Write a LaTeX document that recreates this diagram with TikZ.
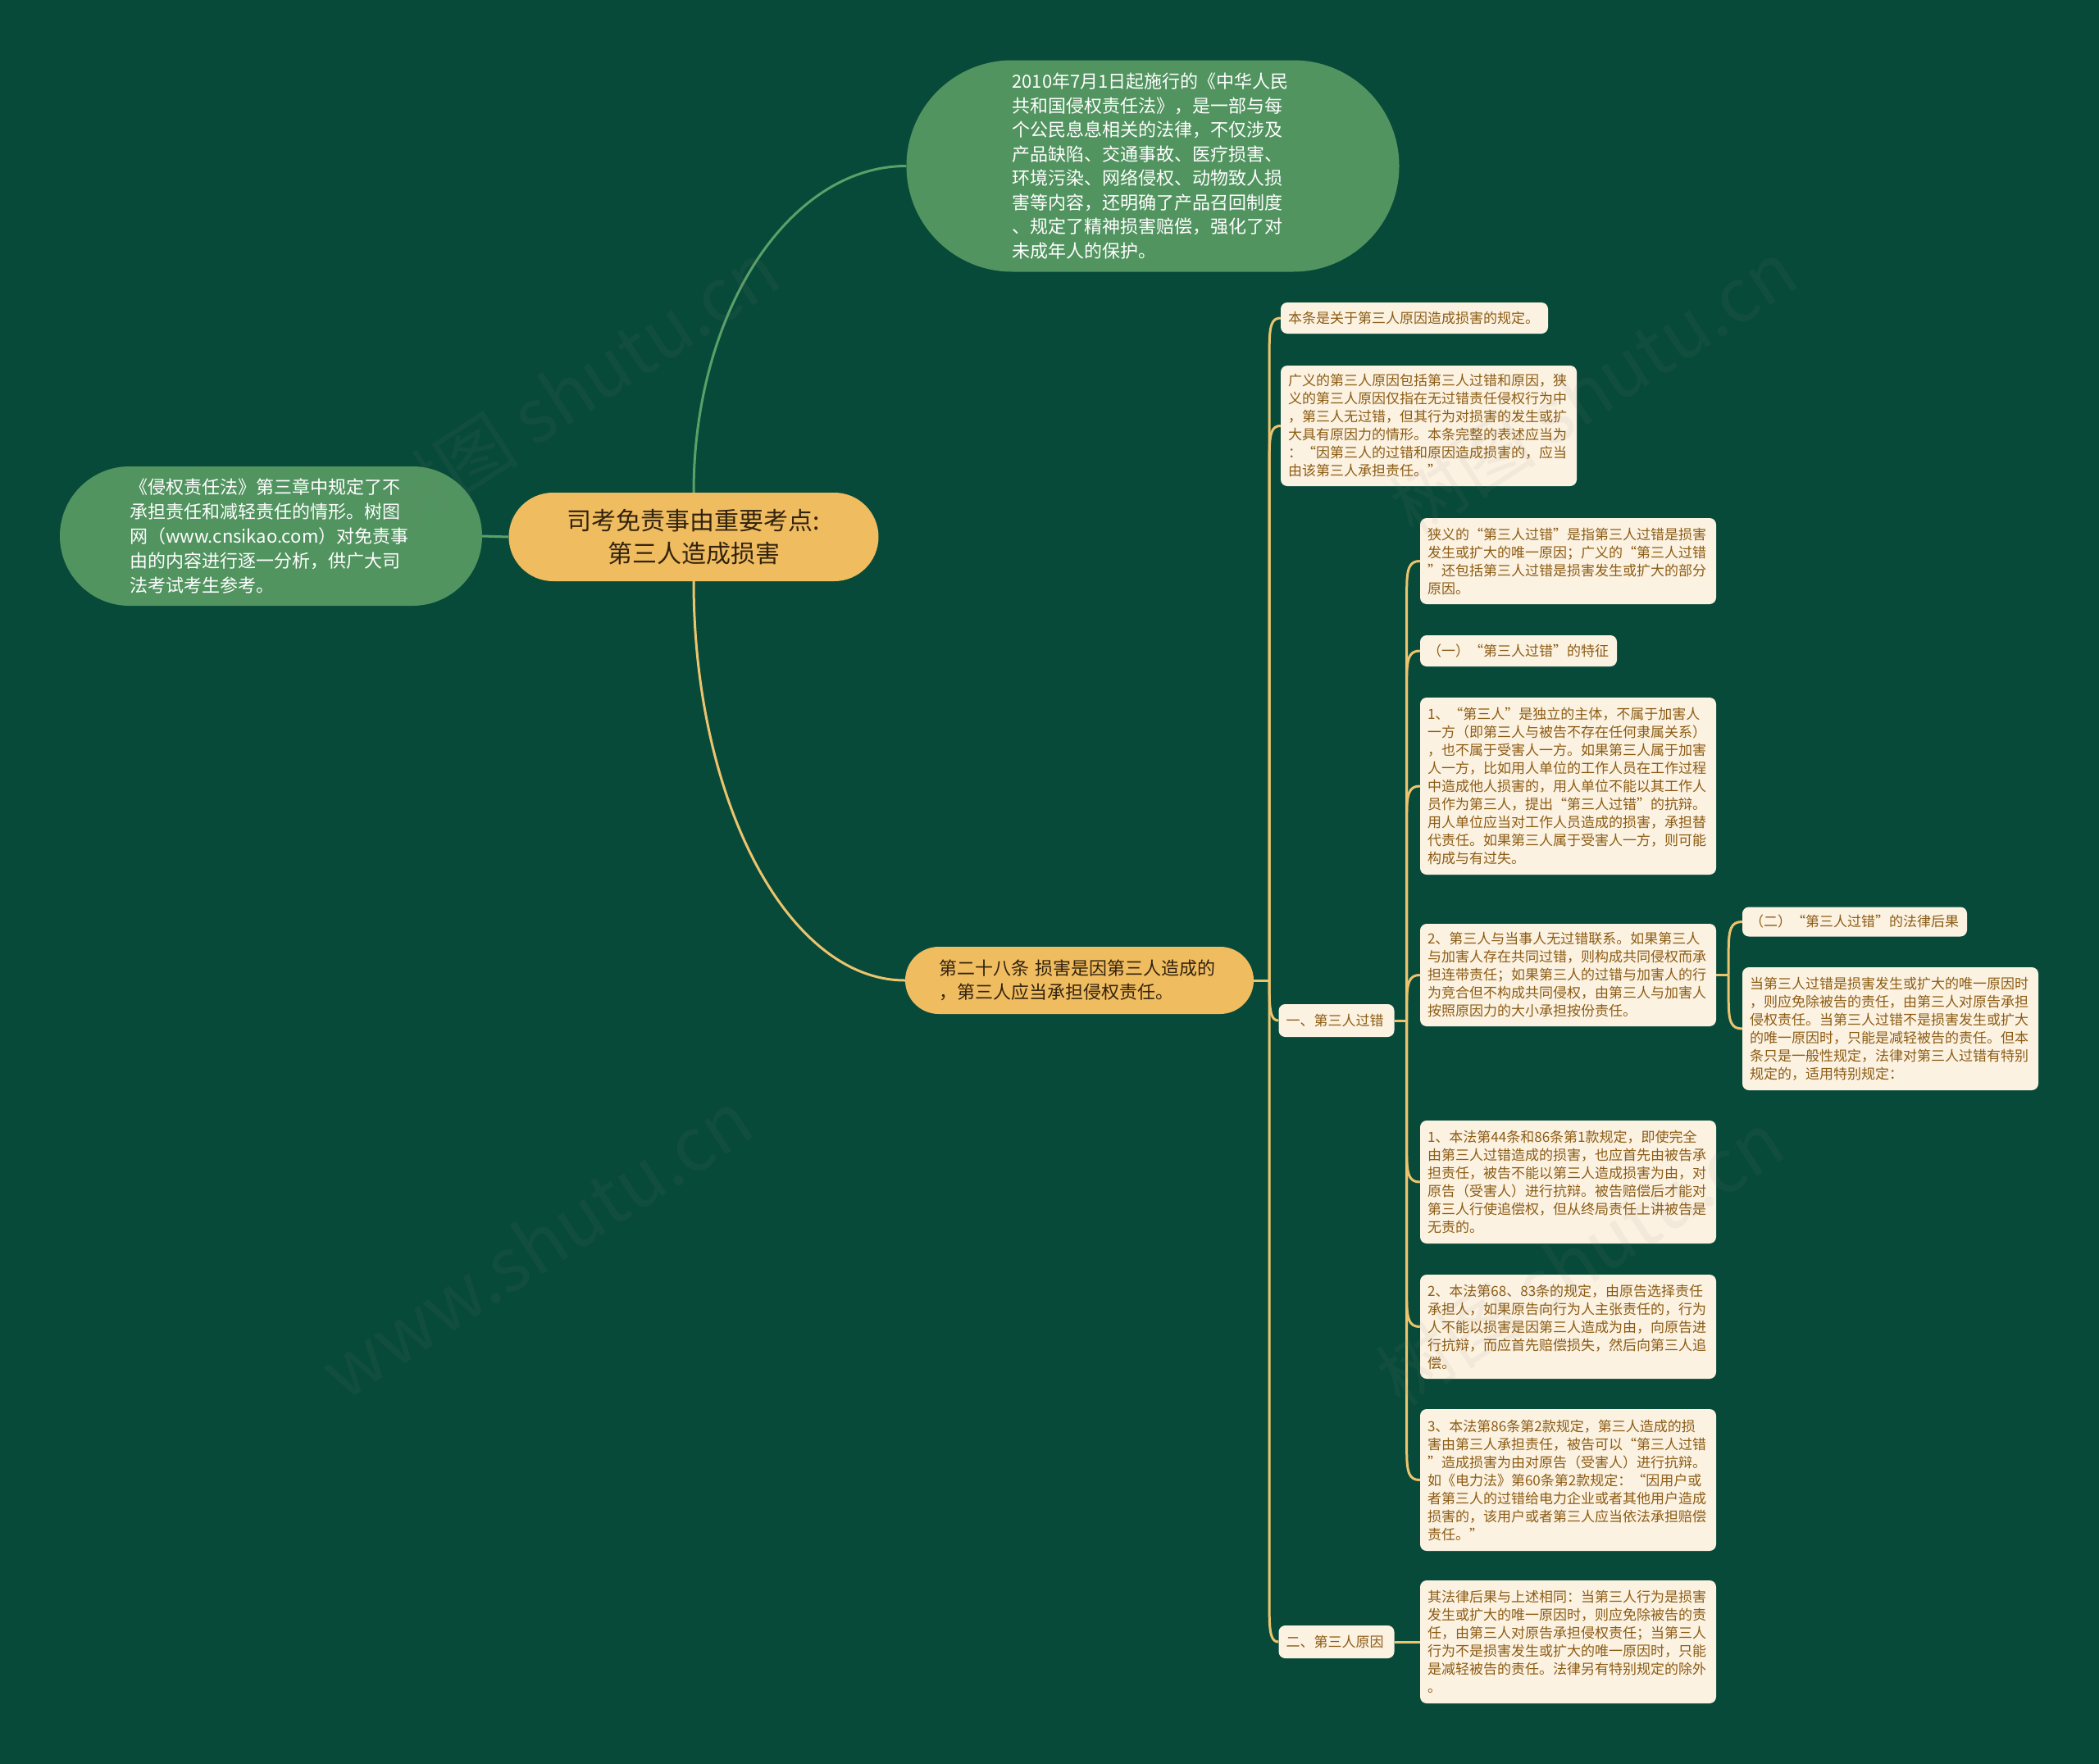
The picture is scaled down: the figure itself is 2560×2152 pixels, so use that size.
\documentclass[tikz,border=0pt]{standalone}
\usepackage{fontspec}
\newfontfamily\cjk{Noto Sans CJK SC}
\usetikzlibrary{calc}
\definecolor{bgc}{RGB}{8,74,57}
\definecolor{leafgreen}{RGB}{82,148,96}
\definecolor{hubfill}{RGB}{240,188,96}
\definecolor{creamfill}{RGB}{252,242,226}
\definecolor{browntext}{RGB}{140,92,20}
\definecolor{darktext}{RGB}{50,35,15}
\definecolor{goldline}{RGB}{236,196,110}
\definecolor{greenline}{RGB}{90,160,105}
\newcommand\linkto[4]{%
  \draw[#1] (#2) -- ($(#2 |- #3.west)+(0,#4)$) .. controls ($(#2 |- #3.west)+(0,#4*0.25)$) and ($(#2 |- #3.west)+(3,0)$) .. (#3.west);}
\begin{document}
\begin{tikzpicture}[x=1pt,y=-1pt,
  gnode/.style={fill=leafgreen, text=white, inner sep=0pt, align=left,
    font=\cjk\fontsize{22}{29.5}\selectfont},
  hub/.style={fill=hubfill, text=darktext, inner sep=0pt},
  leaf/.style={fill=creamfill, text=browntext, rounded corners=8pt, inner sep=0pt, align=left,
    font=\cjk\fontsize{17}{22}\selectfont},
  gline/.style={draw=greenline, line width=3pt},
  oline/.style={draw=goldline, line width=3pt},
  wmark/.style={text=gray, opacity=0.08, rotate=33, font=\cjk\fontsize{90}{90}\selectfont}]
\fill[bgc] (0,0) rectangle (2560,2152);
\useasboundingbox (0,0) rectangle (2560,2152);

% main nodes
\node[hub, minimum width=451, minimum height=108, rounded corners=54pt, align=center,
  font=\cjk\fontsize{30}{40}\selectfont] (C) at (846,655) {司考免责事由重要考点:\\第三人造成损害};
\node[gnode, minimum width=601, minimum height=258, rounded corners=129pt, text width=343] (T) at (1406,202.5)
 {2010年7月1日起施行的《中华人民\\共和国侵权责任法》，是一部与每\\个公民息息相关的法律，不仅涉及\\产品缺陷、交通事故、医疗损害、\\环境污染、网络侵权、动物致人损\\害等内容，还明确了产品召回制度\\、规定了精神损害赔偿，强化了对\\未成年人的保护。};
\node[gnode, minimum width=515, minimum height=170, rounded corners=85pt, text width=345,
  font=\cjk\fontsize{22}{30}\selectfont] (L) at (330.5,654)
 {《侵权责任法》第三章中规定了不\\承担责任和减轻责任的情形。树图\\网（www.cnsikao.com）对免责事\\由的内容进行逐一分析，供广大司\\法考试考生参考。};
\node[hub, minimum width=425, minimum height=82, rounded corners=41pt, text width=343, align=left,
  font=\cjk\fontsize{22}{29}\selectfont] (A) at (1316.5,1196)
 {第二十八条 损害是因第三人造成的\\，第三人应当承担侵权责任。};

% level 2
\node[leaf, minimum width=326, minimum height=38, text width=308] (b1) at (1725,388)
 {本条是关于第三人原因造成损害的规定。};
\node[leaf, minimum width=361, minimum height=147, text width=343] (b2) at (1742.5,519.5)
 {广义的第三人原因包括第三人过错和原因，狭\\义的第三人原因仅指在无过错责任侵权行为中\\，第三人无过错，但其行为对损害的发生或扩\\大具有原因力的情形。本条完整的表述应当为\\：“因第三人的过错和原因造成损害的，应当\\由该第三人承担责任。”};
\node[leaf, minimum width=141, minimum height=40, text width=123] (b3) at (1630,1245) {一、第三人过错};
\node[leaf, minimum width=141, minimum height=40, text width=123] (b4) at (1630,2003) {二、第三人原因};

% level 3
\node[leaf, minimum width=361, minimum height=105, text width=343] (c1) at (1912.5,684.5)
 {狭义的“第三人过错”是指第三人过错是损害\\发生或扩大的唯一原因；广义的“第三人过错\\”还包括第三人过错是损害发生或扩大的部分\\原因。};
\node[leaf, minimum width=240, minimum height=38, text width=222] (c2) at (1852,794)
 {（一）“第三人过错”的特征};
\node[leaf, minimum width=361, minimum height=216, text width=343] (c3) at (1912.5,959)
 {1、“第三人”是独立的主体，不属于加害人\\一方（即第三人与被告不存在任何隶属关系）\\，也不属于受害人一方。如果第三人属于加害\\人一方，比如用人单位的工作人员在工作过程\\中造成他人损害的，用人单位不能以其工作人\\员作为第三人，提出“第三人过错”的抗辩。\\用人单位应当对工作人员造成的损害，承担替\\代责任。如果第三人属于受害人一方，则可能\\构成与有过失。};
\node[leaf, minimum width=361, minimum height=125, text width=343] (c4) at (1912.5,1189.5)
 {2、第三人与当事人无过错联系。如果第三人\\与加害人存在共同过错，则构成共同侵权而承\\担连带责任；如果第三人的过错与加害人的行\\为竞合但不构成共同侵权，由第三人与加害人\\按照原因力的大小承担按份责任。};
\node[leaf, minimum width=361, minimum height=150, text width=343] (c5) at (1912.5,1442)
 {1、本法第44条和86条第1款规定，即使完全\\由第三人过错造成的损害，也应首先由被告承\\担责任，被告不能以第三人造成损害为由，对\\原告（受害人）进行抗辩。被告赔偿后才能对\\第三人行使追偿权，但从终局责任上讲被告是\\无责的。};
\node[leaf, minimum width=361, minimum height=127, text width=343] (c6) at (1912.5,1618.5)
 {2、本法第68、83条的规定，由原告选择责任\\承担人，如果原告向行为人主张责任的，行为\\人不能以损害是因第三人造成为由，向原告进\\行抗辩，而应首先赔偿损失，然后向第三人追\\偿。};
\node[leaf, minimum width=361, minimum height=173, text width=343] (c7) at (1912.5,1805.5)
 {3、本法第86条第2款规定，第三人造成的损\\害由第三人承担责任，被告可以“第三人过错\\”造成损害为由对原告（受害人）进行抗辩。\\如《电力法》第60条第2款规定：“因用户或\\者第三人的过错给电力企业或者其他用户造成\\损害的，该用户或者第三人应当依法承担赔偿\\责任。”};
\node[leaf, minimum width=361, minimum height=150, text width=343] (c8) at (1912.5,2003)
 {其法律后果与上述相同：当第三人行为是损害\\发生或扩大的唯一原因时，则应免除被告的责\\任，由第三人对原告承担侵权责任；当第三人\\行为不是损害发生或扩大的唯一原因时，只能\\是减轻被告的责任。法律另有特别规定的除外\\。};

% level 4
\node[leaf, minimum width=274, minimum height=36, text width=256] (d1) at (2262,1124.5)
 {（二）“第三人过错”的法律后果};
\node[leaf, minimum width=361, minimum height=150, text width=343] (d2) at (2305.5,1255)
 {当第三人过错是损害发生或扩大的唯一原因时\\，则应免除被告的责任，由第三人对原告承担\\侵权责任。当第三人过错不是损害发生或扩大\\的唯一原因时，只能是减轻被告的责任。但本\\条只是一般性规定，法律对第三人过错有特别\\规定的，适用特别规定：};

% connectors
\draw[gline] (L.east) -- (C.west);
\draw[gline] (C.north) .. controls ($(C.north)!0.552!(C.north |- T.west)$) and ($(T.west)!0.552!(C.north |- T.west)$) .. (T.west);
\draw[oline] (C.south) .. controls ($(C.south)!0.552!(C.south |- A.west)$) and ($(A.west)!0.552!(C.south |- A.west)$) .. (A.west);

\coordinate (P1) at ($(A.east)+(19,0)$);
\coordinate (P2) at ($(b3.east)+(15,0)$);
\coordinate (P3) at ($(c4.east)+(15,0)$);
\draw[oline] (A.east) -- (P1);
\draw[oline] (b3.east) -- (P2);
\draw[oline] (c4.east) -- (P3);
\linkto{oline}{P1}{b1}{35}
\linkto{oline}{P1}{b2}{35}
\linkto{oline}{P1}{b3}{-35}
\linkto{oline}{P1}{b4}{-35}
\linkto{oline}{P2}{c1}{35}
\linkto{oline}{P2}{c2}{35}
\linkto{oline}{P2}{c3}{35}
\linkto{oline}{P2}{c4}{35}
\linkto{oline}{P2}{c5}{-35}
\linkto{oline}{P2}{c6}{-35}
\linkto{oline}{P2}{c7}{-35}
\linkto{oline}{P3}{d1}{35}
\linkto{oline}{P3}{d2}{-35}
\draw[oline] (b4.east) -- (c8.west);

% watermarks
\node[wmark] (w1) at (702,473) {树图 shutu.cn};
\node[wmark] (w2) at (653,1518) {www.shutu.cn};
\node[wmark] (w3) at (1943,473) {树图 shutu.cn};
\node[wmark] (w4) at (1927,1535) {树图 shutu.cn};
\end{tikzpicture}
\end{document}
